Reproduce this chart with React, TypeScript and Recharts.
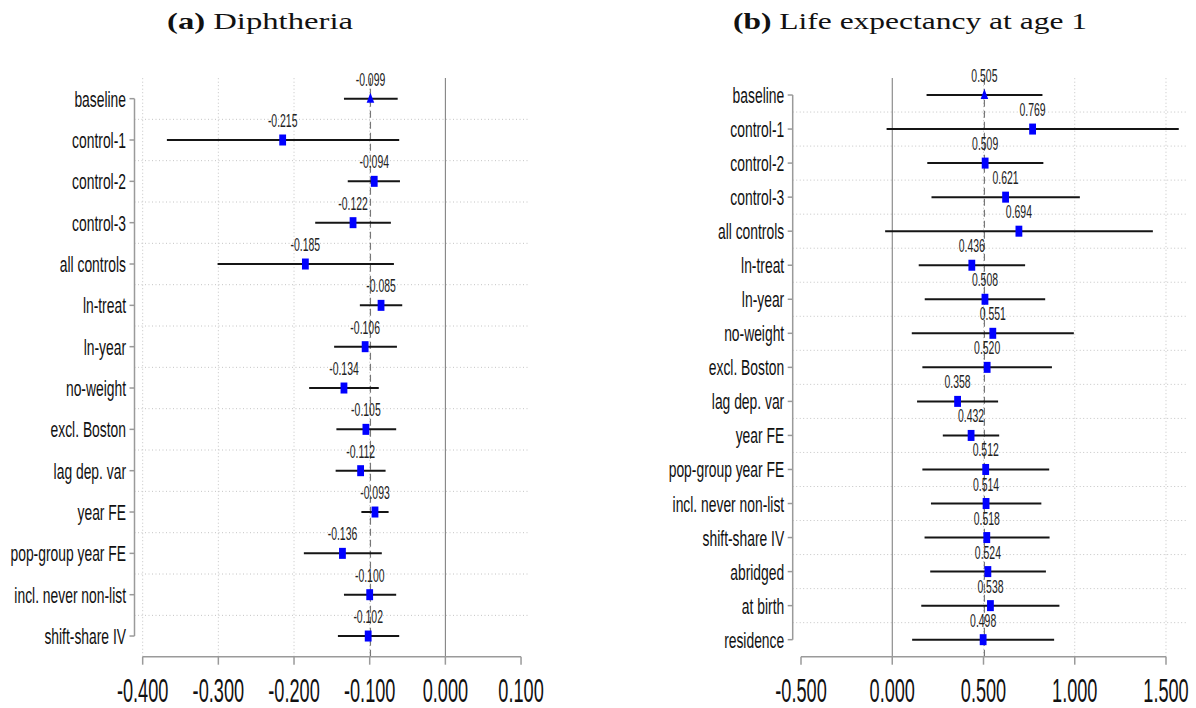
import React from "react";
import { ScatterChart, Scatter, XAxis, YAxis, ReferenceLine, ErrorBar } from "recharts";

// (a) Diphtheria
const diphRows = [
  "baseline", "control-1", "control-2", "control-3", "all controls", "ln-treat", "ln-year",
  "no-weight", "excl. Boston", "lag dep. var", "year FE", "pop-group year FE",
  "incl. never non-list", "shift-share IV",
];
const diphEst = [-0.099, -0.215, -0.094, -0.122, -0.185, -0.085, -0.106, -0.134, -0.105, -0.112, -0.093, -0.136, -0.1, -0.102];
const diphLow = [-0.134, -0.368, -0.129, -0.172, -0.301, -0.113, -0.147, -0.18, -0.144, -0.145, -0.111, -0.187, -0.134, -0.142];
const diphHigh = [-0.063, -0.061, -0.06, -0.072, -0.068, -0.057, -0.064, -0.088, -0.065, -0.079, -0.075, -0.084, -0.065, -0.061];
const diphTicks = [-0.4, -0.3, -0.2, -0.1, 0, 0.1];
const diphGridX = [-0.4, -0.3, -0.2, -0.1];

// (b) Life expectancy at age 1
const lifeRows = [
  "baseline", "control-1", "control-2", "control-3", "all controls", "ln-treat", "ln-year",
  "no-weight", "excl. Boston", "lag dep. var", "year FE", "pop-group year FE",
  "incl. never non-list", "shift-share IV", "abridged", "at birth", "residence",
];
const lifeEst = [0.505, 0.769, 0.509, 0.621, 0.694, 0.436, 0.508, 0.551, 0.52, 0.358, 0.432, 0.512, 0.514, 0.518, 0.524, 0.538, 0.498];
const lifeLow = [0.188, -0.031, 0.192, 0.215, -0.039, 0.145, 0.178, 0.107, 0.165, 0.136, 0.277, 0.165, 0.212, 0.177, 0.208, 0.159, 0.109];
const lifeHigh = [0.823, 1.57, 0.828, 1.028, 1.428, 0.728, 0.838, 0.995, 0.875, 0.58, 0.586, 0.86, 0.817, 0.862, 0.842, 0.916, 0.887];
const lifeTicks = [-0.5, 0, 0.5, 1, 1.5];
const lifeGridX = [0.5, 1, 1.5];

const SANS = "'Liberation Sans', Arial, Helvetica, sans-serif";
const SERIF = "'Liberation Serif', 'Times New Roman', serif";
const AXIS = "#9a9a9a";
const GRID = "#c4c4c4";

function Marker(props: any) {
  const { cx, cy, payload } = props;
  const label = (
    <text
      transform={`translate(${cx},${cy - 13}) scale(0.58,1)`}
      textAnchor="middle"
      fontSize={18}
      fontFamily={SANS}
      fill="#222"
    >
      {payload.est.toFixed(3)}
    </text>
  );
  if (payload.row === 0) {
    return (
      <g>
        <polygon points={`${cx},${cy - 6} ${cx - 3.8},${cy + 4} ${cx + 3.8},${cy + 4}`} fill="#0000ff" />
        {label}
      </g>
    );
  }
  return (
    <g>
      <rect x={cx - 3.4} y={cy - 5.5} width={6.8} height={11} fill="#0000ff" />
      {label}
    </g>
  );
}

function RowTick({ x, y, payload, labels }: any) {
  return (
    <text
      transform={`translate(${x},${y + 8}) scale(0.63,1)`}
      textAnchor="end"
      fontSize={22}
      fontFamily={SANS}
      fill="#111"
    >
      {labels[payload.value]}
    </text>
  );
}

function ValueTick({ x, y, payload }: any) {
  return (
    <text
      transform={`translate(${x},${y + 35}) scale(0.55,1)`}
      textAnchor="middle"
      fontSize={33}
      fontFamily={SANS}
      fill="#111"
    >
      {Number(payload.value).toFixed(3)}
    </text>
  );
}

function Panel({ rows, est, low, high, ticks, gridX, domain, left, width, axisWidth, marginRight }: any) {
  const data = rows.map((name: string, i: number) => ({
    row: i,
    name,
    est: est[i],
    err: [est[i] - low[i], high[i] - est[i]],
  }));
  const n = rows.length;
  const idx = rows.map((_: string, i: number) => i);
  return (
    <div style={{ position: "absolute", left, top: 0 }}>
      <ScatterChart width={width} height={708} margin={{ top: 78, right: marginRight, bottom: 0, left: 0 }}>
        <XAxis
          type="number"
          dataKey="est"
          domain={domain}
          ticks={ticks}
          axisLine={false}
          tickSize={8}
          tickMargin={2}
          tickLine={{ stroke: AXIS, strokeWidth: 1.5 }}
          tick={<ValueTick />}
          height={51.3}
          interval={0}
        />
        <YAxis
          type="number"
          dataKey="row"
          domain={[-0.5, n - 0.5]}
          ticks={idx}
          reversed
          axisLine={false}
          tickSize={5}
          tickMargin={3.5}
          tickLine={{ stroke: AXIS, strokeWidth: 1.5 }}
          tick={<RowTick labels={rows} />}
          width={axisWidth}
          interval={0}
        />
        {idx.slice(0, n - 1).map((i: number) => (
          <ReferenceLine key={`h${i}`} y={i + 0.5} stroke={GRID} strokeDasharray="1 2.5" />
        ))}
        {gridX.map((v: number) => (
          <ReferenceLine key={`v${v}`} x={v} stroke={GRID} strokeDasharray="1 2.5" />
        ))}
        <ReferenceLine x={0} stroke="#777" strokeWidth={1} />
        <ReferenceLine x={est[0]} stroke="#777" strokeWidth={1.2} strokeDasharray="7 4" />
        <ReferenceLine
          segment={[{ x: ticks[0], y: n - 0.5 }, { x: ticks[ticks.length - 1], y: n - 0.5 }]}
          stroke={AXIS}
          strokeWidth={1.5}
          ifOverflow="visible"
        />
        <ReferenceLine
          segment={[{ x: domain[0], y: 0 }, { x: domain[0], y: n - 1 }]}
          stroke={AXIS}
          strokeWidth={1.5}
          ifOverflow="visible"
        />
        <Scatter data={data} shape={<Marker />} isAnimationActive={false}>
          <ErrorBar dataKey="err" direction="x" width={0} stroke="#151515" strokeWidth={2} isAnimationActive={false} />
        </Scatter>
      </ScatterChart>
    </div>
  );
}

export default function App() {
  return (
    <div style={{ position: "absolute", left: 0, top: 0, width: 1196, height: 708, background: "#fff", overflow: "hidden" }}>
      <svg width={1196} height={40} style={{ position: "absolute", left: 0, top: 0 }}>
        <text x={167} y={29} fontSize={23} fontFamily={SERIF} fill="#111" textLength={186} lengthAdjust="spacingAndGlyphs">
          <tspan fontWeight="bold">(a)</tspan> Diphtheria
        </text>
        <text x={733} y={29} fontSize={23} fontFamily={SERIF} fill="#111" textLength={354} lengthAdjust="spacingAndGlyphs">
          <tspan fontWeight="bold">(b)</tspan> Life expectancy at age 1
        </text>
      </svg>
      <Panel
        rows={diphRows}
        est={diphEst}
        low={diphLow}
        high={diphHigh}
        ticks={diphTicks}
        gridX={diphGridX}
        domain={[-0.4108, 0.1092]}
        left={0}
        width={560}
        axisWidth={134.5}
        marginRight={32}
      />
      <Panel
        rows={lifeRows}
        est={lifeEst}
        low={lifeLow}
        high={lifeHigh}
        ticks={lifeTicks}
        gridX={lifeGridX}
        domain={[-0.5455, 1.6096]}
        left={600}
        width={596}
        axisWidth={192.7}
        marginRight={10}
      />
    </div>
  );
}
